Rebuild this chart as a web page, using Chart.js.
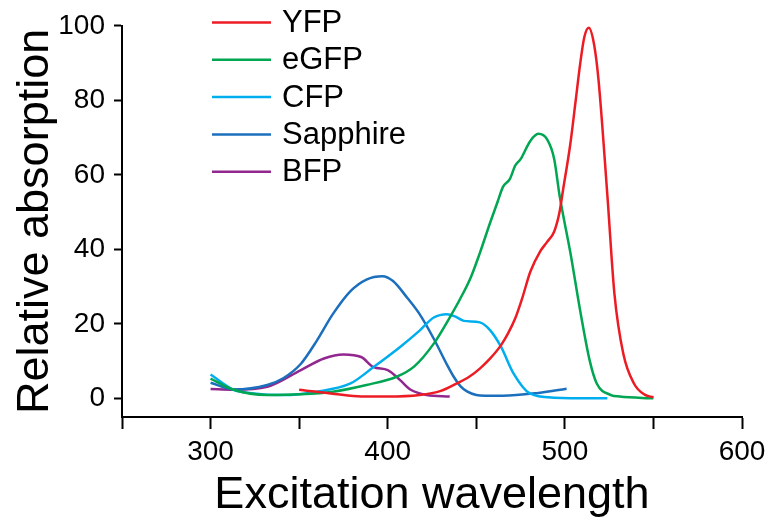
<!DOCTYPE html>
<html>
<head>
<meta charset="utf-8">
<script src="https://cdn.jsdelivr.net/npm/chart.js@4"></script>
<style>
  html, body { margin: 0; padding: 0; background: #fff; }
  #wrap { width: 772px; height: 522px; }
</style>
</head>
<body>
<div id="wrap"><canvas id="grafico" width="772" height="522"></canvas></div>
<script>
// dados (comprimento de onda em nm, absorcao relativa em %)
const seriesNames = ['YFP', 'eGFP', 'CFP', 'Sapphire', 'BFP'];
const seriesColors = ['#ed1c24', '#00a651', '#00aeef', '#1c6fbd', '#92278f'];

const yfpX = [350, 360, 370, 385, 400, 418, 430, 439, 446, 452, 458, 464, 468, 472, 476, 480.5, 486, 490, 494, 497, 499, 503, 506, 508.7, 511, 513.5, 516.5, 519, 524, 528, 533, 539, 545, 550];
const yfpY = [2.3, 1.8, 1.2, 0.5, 0.5, 0.9, 2, 4, 5.8, 8, 10.8, 14.3, 17.5, 21.5, 27, 34, 39.4, 42, 44.8, 50, 56, 68, 79.5, 90, 97, 99.5, 95, 85.5, 54.5, 28, 12, 4, 1, 0.3];

const egfpX = [300, 313, 332, 351, 369, 388, 405, 415, 426, 435, 441, 447, 452, 458, 462, 465, 469, 472, 475, 480.5, 485, 490, 494, 497, 503, 509, 514, 518, 526, 531, 550];
const egfpY = [5.3, 2.3, 0.9, 1.1, 1.8, 3.6, 5.8, 8.6, 14.7, 21.7, 26.8, 32.6, 39, 47.4, 52.7, 56.7, 58.9, 62.5, 64.2, 69.1, 71, 69.5, 64.2, 54.5, 39.4, 22.6, 10.2, 4, 0.9, 0.5, 0];

const cfpX = [300, 313, 323, 341, 360, 379, 392, 407, 418, 426, 433.5, 438, 443, 452, 458, 464, 471, 480, 494, 524];
const cfpY = [6.4, 2.3, 1.4, 0.9, 1.8, 4, 8.4, 13.8, 18.2, 21.7, 22.6, 22, 20.8, 20.4, 18.2, 13.8, 6.7, 1.4, 0.2, 0];

const sapphireX = [300, 313, 332, 341, 351, 360, 369, 379, 388, 397, 403, 411, 418, 426, 433.5, 437, 441, 445, 450, 455, 465, 484, 501];
const sapphireY = [4.2, 2.4, 3.6, 5.4, 9.3, 15.5, 22.6, 28.8, 31.9, 32.8, 31.5, 27, 22.6, 16, 9, 6, 3.3, 1.8, 0.9, 0.7, 0.7, 1.4, 2.6];

const bfpX = [300, 313, 332, 351, 364, 375, 385, 392, 400, 407, 413, 422, 435];
const bfpY = [2.5, 2.3, 3.1, 7.6, 10.7, 11.8, 11.1, 8.4, 7.6, 4.9, 2.3, 0.9, 0.5];

const xTicks = [250, 300, 350, 400, 450, 500, 550, 600];
const xLabels = [300, 400, 500, 600];
const yTicks = [0, 20, 40, 60, 80, 100];

const FONTE = '"Liberation Sans", Arial, Helvetica, sans-serif';

function montarPontos(xs, ys) {
    return xs.map((x, i) => ({ x: x, y: ys[i] }));
}

const todasSeries = [
    montarPontos(yfpX, yfpY),
    montarPontos(egfpX, egfpY),
    montarPontos(cfpX, cfpY),
    montarPontos(sapphireX, sapphireY),
    montarPontos(bfpX, bfpY)
];

// legenda desenhada dentro da area do grafico, no canto superior esquerdo
const legendaInterna = {
    id: 'legendaInterna',
    afterDraw(chart) {
        const ctx = chart.ctx;
        ctx.save();
        ctx.font = '31px ' + FONTE;
        ctx.textBaseline = 'middle';
        ctx.fillStyle = '#000';
        chart.data.datasets.forEach((ds, i) => {
            const y = 22.5 + i * 37.3;
            ctx.strokeStyle = ds.borderColor;
            ctx.lineWidth = 2.5;
            ctx.beginPath();
            ctx.moveTo(212, y);
            ctx.lineTo(271, y);
            ctx.stroke();
            ctx.fillText(ds.label, 282, y + 1);
        });
        ctx.restore();
    }
};

const ctx = document.getElementById('grafico').getContext('2d');
new Chart(ctx, {
    type: 'line',
    data: {
        datasets: seriesNames.map((nome, i) => ({
            label: nome,
            data: todasSeries[i],
            borderColor: seriesColors[i],
            borderWidth: 2.5,
            pointRadius: 0,
            fill: false,
            cubicInterpolationMode: 'monotone'
        }))
    },
    options: {
        responsive: false,
        animation: false,
        layout: { padding: { top: 22, right: 30, left: 0, bottom: 0 } },
        plugins: { legend: { display: false }, tooltip: { enabled: false } },
        scales: {
            x: {
                type: 'linear',
                min: 250,
                max: 600,
                afterBuildTicks: (s) => { s.ticks = xTicks.map(v => ({ value: v })); },
                afterFit: (s) => { s.height = 105; },
                ticks: {
                    autoSkip: false,
                    maxRotation: 0,
                    padding: 6,
                    color: '#000',
                    font: { family: FONTE, size: 28 },
                    callback: (v) => xLabels.includes(v) ? String(v) : ''
                },
                grid: { drawOnChartArea: false, drawTicks: true, tickLength: 12, tickWidth: 2, color: '#000' },
                border: { display: true, color: '#000', width: 2 },
                title: {
                    display: true,
                    text: 'Excitation wavelength',
                    color: '#000',
                    font: { family: FONTE, size: 45, lineHeight: 1 },
                    padding: { top: 0, bottom: 4 }
                }
            },
            y: {
                type: 'linear',
                min: -5,
                max: 100,
                afterBuildTicks: (s) => { s.ticks = yTicks.map(v => ({ value: v })); },
                afterFit: (s) => { s.width = 122; },
                ticks: {
                    padding: 9,
                    color: '#000',
                    font: { family: FONTE, size: 28 }
                },
                grid: { drawOnChartArea: false, drawTicks: true, tickLength: 8, tickWidth: 2, color: '#000' },
                border: { display: true, color: '#000', width: 2 },
                title: {
                    display: true,
                    text: 'Relative absorption',
                    color: '#000',
                    font: { family: FONTE, size: 45, lineHeight: 1 },
                    padding: { top: 13, bottom: 0 }
                }
            }
        }
    },
    plugins: [legendaInterna]
});
</script>
</body>
</html>
